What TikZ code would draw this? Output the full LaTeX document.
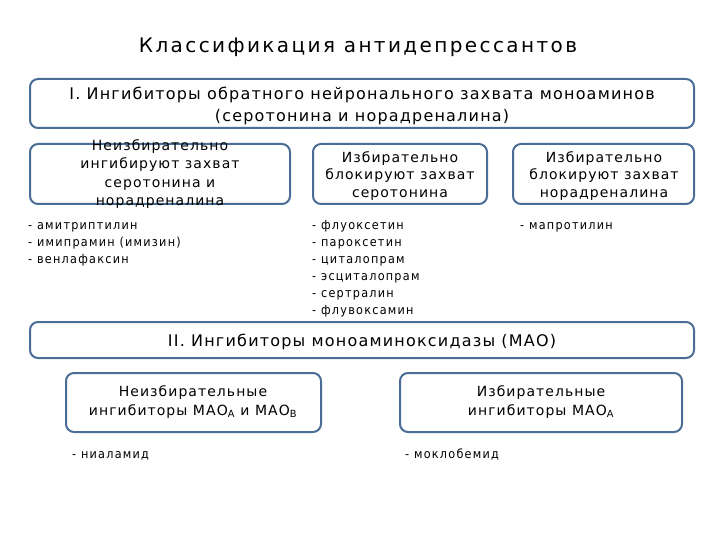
\documentclass[tikz,border=0pt]{standalone}
\usepackage{fontspec}
\setmainfont{DejaVu Sans}[LetterSpace=7.5]
\newfontfamily\condfont{DejaVu Sans Condensed}[LetterSpace=10]
\definecolor{bord}{HTML}{4A6E96}
\begin{document}
\begin{tikzpicture}[x=1pt,y=-1pt,
  box/.style={draw=bord,line width=2pt,rounded corners=8pt,fill=white},
  lbl/.style={align=center,inner sep=0pt},
  lst/.style={anchor=north west,align=left,inner sep=0pt,font=\condfont\fontsize{12.5}{17}\selectfont}]
\useasboundingbox (0,0) rectangle (720,540);
\node[lbl,font=\fontsize{20}{24}\selectfont\addfontfeature{LetterSpace=12}] (title) at (358,47) {Классификация антидепрессантов};
\draw[box] (30,79) rectangle (694,128);
\node[lbl,font=\fontsize{16}{22}\selectfont] (b1) at (362,106) {I. Ингибиторы обратного нейронального захвата моноаминов\\(серотонина и норадреналина)};
\draw[box] (30,144) rectangle (290,204);
\node[lbl,font=\fontsize{14}{18.3}\selectfont] (b2) at (160,174) {Неизбирательно\\ингибируют захват\\серотонина и\\норадреналина};
\draw[box] (313,144) rectangle (487,204);
\node[lbl,font=\fontsize{14}{17.7}\selectfont] (b3) at (400,176) {Избирательно\\блокируют захват\\серотонина};
\draw[box] (513,144) rectangle (694,204);
\node[lbl,font=\fontsize{14}{17.7}\selectfont] (b4) at (604,176) {Избирательно\\блокируют захват\\норадреналина};
\node[lst] (l1) at (28,222) {- амитриптилин\\- имипрамин (имизин)\\- венлафаксин};
\node[lst] (l2) at (312,220) {- флуоксетин\\- пароксетин\\- циталопрам\\- эсциталопрам\\- сертралин\\- флувоксамин};
\node[lst] (l3) at (520,222) {- мапротилин};
\draw[box] (30,322) rectangle (694,358);
\node[lbl,font=\fontsize{16}{22}\selectfont] (b5) at (362,342) {II. Ингибиторы моноаминоксидазы (МАО)};
\draw[box] (66,373) rectangle (321,432);
\node[lbl,font=\fontsize{14}{19}\selectfont] (b6) at (193,402) {Неизбирательные\\ингибиторы МАО\textsubscript{А} и МАО\textsubscript{В}};
\draw[box] (400,373) rectangle (682,432);
\node[lbl,font=\fontsize{14}{19}\selectfont] (b7) at (541,402) {Избирательные\\ингибиторы МАО\textsubscript{А}};
\node[lst] (l4) at (72,451) {- ниаламид};
\node[lst] (l5) at (405,449) {- моклобемид};
\end{tikzpicture}
\end{document}
